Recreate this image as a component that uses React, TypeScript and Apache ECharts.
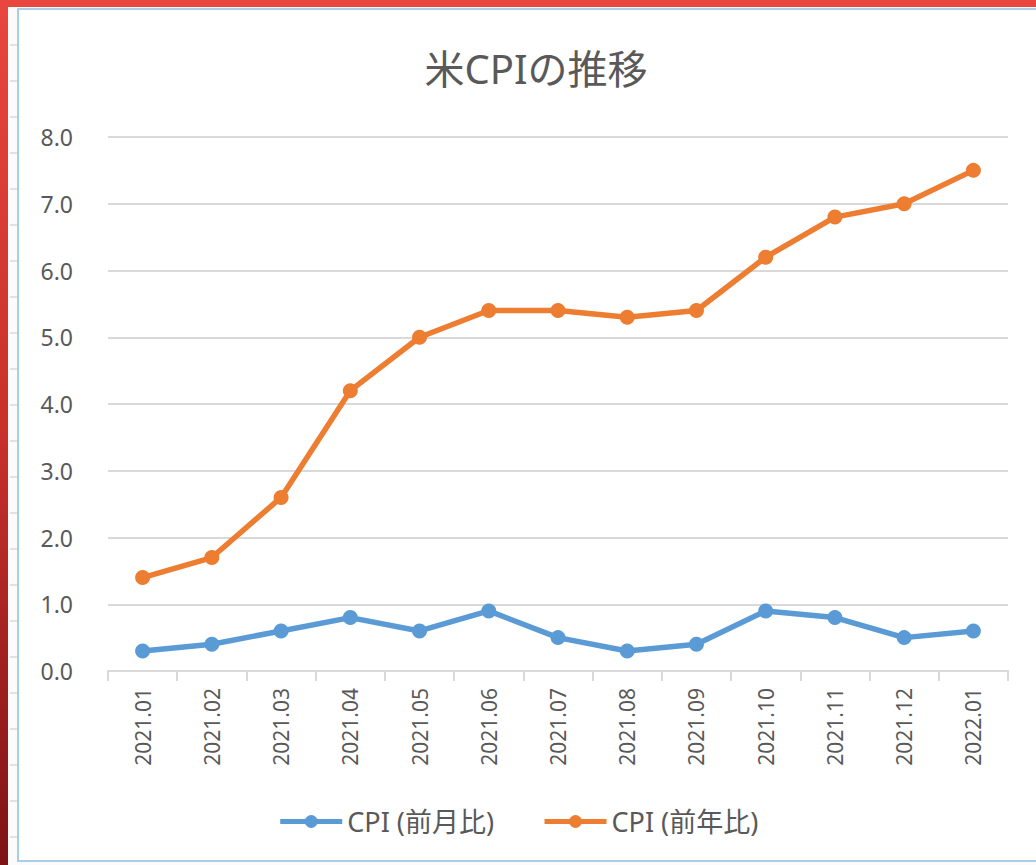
import React, { useEffect, useRef } from "react";
import * as echarts from "echarts";

const months = ["2021.01","2021.02","2021.03","2021.04","2021.05","2021.06","2021.07","2021.08","2021.09","2021.10","2021.11","2021.12","2022.01"];
const momValues = [0.3,0.4,0.6,0.8,0.6,0.9,0.5,0.3,0.4,0.9,0.8,0.5,0.6];
const yoyValues = [1.4,1.7,2.6,4.2,5.0,5.4,5.4,5.3,5.4,6.2,6.8,7.0,7.5];
const seriesNames = ["CPI (前月比)", "CPI (前年比)"];
const titleText = "米CPIの推移";

const FONT = "'Noto Sans', 'Noto Sans CJK JP', sans-serif";

export default function App() {
  const ref = useRef<HTMLDivElement>(null);
  useEffect(() => {
    document.body.style.margin = "0";
    const chart = echarts.init(ref.current!, null, { renderer: "svg" });
    const rulerTicks: any[] = [];
    for (let y = 45; y < 865; y += 36) {
      rulerTicks.push({ type: "line", shape: { x1: 10, y1: y, x2: 17, y2: y }, style: { stroke: "#c8c8c8", lineWidth: 1 }, z: -5, silent: true });
    }
    chart.setOption({
      animation: false,
      backgroundColor: "#ffffff",
      graphic: [
        { type: "rect", shape: { x: 0, y: 0, width: 1036, height: 865 }, style: { fill: { type: "linear", x: 0, y: 0, x2: 0, y2: 1, colorStops: [{ offset: 0, color: "#e8463e" }, { offset: 0.5, color: "#c8302c" }, { offset: 1, color: "#7e1414" }] } }, z: -10, silent: true },
        { type: "rect", shape: { x: 8, y: 7, width: 1028, height: 858 }, style: { fill: "#fbfbfb" }, z: -9, silent: true },
        { type: "rect", shape: { x: 18, y: 9, width: 1030, height: 852 }, style: { fill: "#ffffff", stroke: "#a9cfe8", lineWidth: 2 }, z: -8, silent: true },
        ...rulerTicks,
      ],
      title: {
        text: titleText,
        left: 531,
        textAlign: "center",
        top: 43,
        textStyle: { fontFamily: FONT, fontSize: 40, fontWeight: "normal", color: "#595959" },
      },
      legend: {
        bottom: 25,
        left: "center",
        itemGap: 48,
        itemWidth: 62,
        itemHeight: 16,
        lineStyle: { width: 5 },
        textStyle: { fontFamily: FONT, fontSize: 27, color: "#595959" },
        data: seriesNames,
      },
      grid: { left: 108, right: 28, top: 137, bottom: 194, containLabel: false },
      xAxis: {
        type: "category",
        data: months,
        boundaryGap: true,
        axisLine: { lineStyle: { color: "#d9d9d9", width: 2 } },
        axisTick: { show: true, length: 10, lineStyle: { color: "#d9d9d9", width: 2 } },
        axisLabel: { rotate: 90, interval: 0, margin: 17, fontFamily: FONT, fontSize: 21, color: "#595959" },
      },
      yAxis: {
        type: "value",
        min: 0,
        max: 8,
        interval: 1,
        axisLine: { show: false },
        axisTick: { show: false },
        splitLine: { lineStyle: { color: "#d9d9d9", width: 2 } },
        axisLabel: { margin: 35, fontFamily: FONT, fontSize: 23, color: "#595959", formatter: (v: number) => v.toFixed(1) },
      },
      series: [
        {
          name: seriesNames[0], type: "line", data: momValues,
          symbol: "circle", symbolSize: 15,
          lineStyle: { color: "#5B9BD5", width: 5.5 },
          itemStyle: { color: "#5B9BD5" },
        },
        {
          name: seriesNames[1], type: "line", data: yoyValues,
          symbol: "circle", symbolSize: 15,
          lineStyle: { color: "#ED7D31", width: 5.5 },
          itemStyle: { color: "#ED7D31" },
        },
      ],
    });
    return () => chart.dispose();
  }, []);
  return <div ref={ref} style={{ width: 1036, height: 865 }} />;
}
